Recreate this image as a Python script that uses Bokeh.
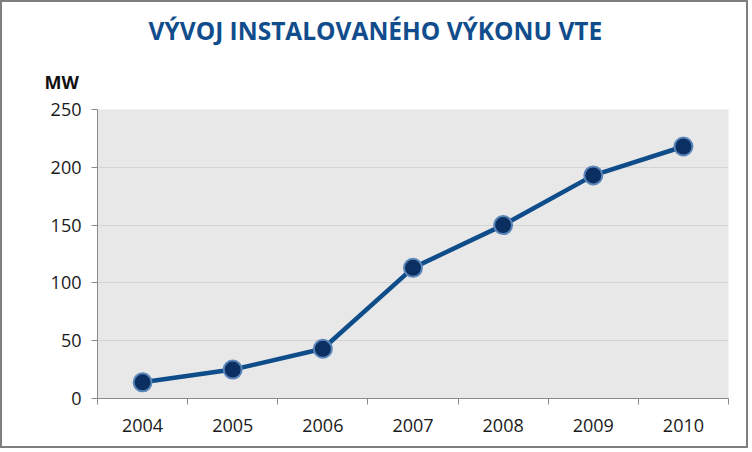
from bokeh.plotting import figure
from bokeh.models import FixedTicker, Range1d, Title
from bokeh.embed import file_html
from bokeh.resources import INLINE

years = [2004, 2005, 2006, 2007, 2008, 2009, 2010]
mw = [14, 25, 43, 113, 150, 193, 218]
y_ticks = [0, 50, 100, 150, 200, 250]
title_text = "VÝVOJ INSTALOVANÉHO VÝKONU VTE"
unit_text = "MW"

FONT = "Open Sans"
W, H = 748, 448
BL, BR, BT, BB = 95, 22, 107, 52

p = figure(width=W, height=H, output_backend="svg", toolbar_location=None,
           x_range=Range1d(years[0] - 0.5, years[-1] + 0.5),
           y_range=Range1d(0, 250),
           min_border_left=BL, min_border_right=BR, min_border_top=BT, min_border_bottom=BB)
p.styles = {"border": "2px solid #7f7f7f"}
p.background_fill_color = "#e8e8e8"
p.border_fill_color = "white"
p.outline_line_color = None

p.xgrid.grid_line_color = None
p.ygrid.grid_line_color = "#d4d4d4"
p.ygrid.ticker = FixedTicker(ticks=y_ticks)

p.yaxis.ticker = FixedTicker(ticks=y_ticks)
p.xaxis.ticker = FixedTicker(ticks=years, minor_ticks=[y - 0.5 for y in years] + [years[-1] + 0.5])
for ax in (p.xaxis[0], p.yaxis[0]):
    ax.axis_line_color = "#8a8a8a"
    ax.major_label_text_font = FONT
    ax.major_label_text_font_size = "18px"
    ax.major_label_text_color = "#1a1a1a"
p.yaxis.major_tick_line_color = "#8a8a8a"
p.yaxis.major_tick_out = 6
p.yaxis.major_tick_in = 0
p.yaxis.minor_tick_line_color = None
p.yaxis.major_label_standoff = 10
p.xaxis.major_tick_line_color = None
p.xaxis.minor_tick_line_color = "#8a8a8a"
p.xaxis.minor_tick_out = 6
p.xaxis.minor_tick_in = 0
p.xaxis.major_label_standoff = 14

p.line(years, mw, line_color="#0f4c8a", line_width=4.5)
p.scatter(years, mw, size=18, fill_color="#0c2f62", line_color="#5a86ba", line_width=2)

p.title.text = title_text
p.title.align = "left"
p.title.offset = 51
p.title.standoff = 11
p.title.text_font = FONT
p.title.text_font_style = "bold"
p.title.text_font_size = "24.5px"
p.title.text_color = "#114d8c"

p.add_layout(Title(text=unit_text, align="left", offset=-53, text_font=FONT,
                   text_font_style="bold", text_font_size="18px", text_color="#111111",
                   standoff=31), "above")

open("out.html", "w").write(file_html(p, INLINE))
